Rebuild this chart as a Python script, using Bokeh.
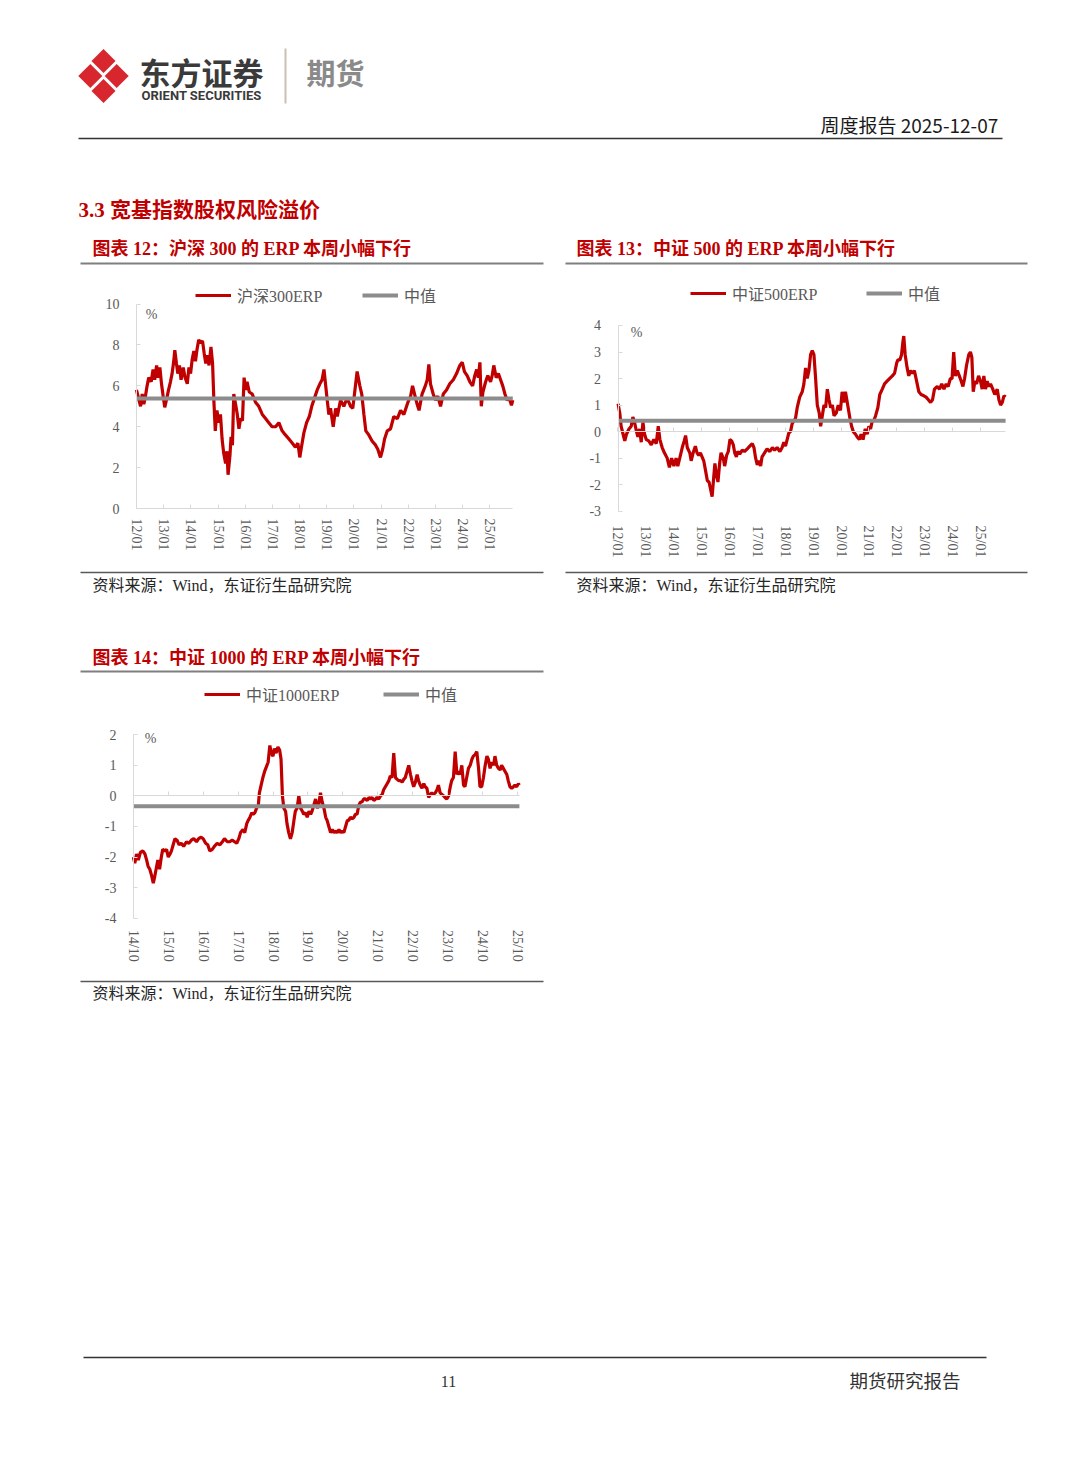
import math
from bokeh.plotting import figure
from bokeh.models import Range1d, LinearAxis, FixedTicker, CustomJSTickFormatter, Legend, LegendItem
from bokeh.layouts import column, row
from bokeh.embed import file_html
from bokeh.resources import INLINE
from bokeh.core.properties import value

# ---------------- data (decimal year, ERP %) ----------------
hs300_erp = [
    (2012.00, 5.8), (2012.09, 5.3), (2012.15, 5.0), (2012.21, 5.6), (2012.27, 5.1), (2012.33, 5.5),
    (2012.39, 6.0), (2012.45, 6.4), (2012.54, 6.2), (2012.61, 6.8), (2012.67, 6.3), (2012.74, 7.0),
    (2012.80, 6.4), (2012.86, 6.9), (2012.92, 6.1), (2012.98, 5.5), (2013.04, 4.95), (2013.10, 5.3),
    (2013.18, 5.8), (2013.25, 6.2), (2013.31, 6.6), (2013.37, 7.2), (2013.41, 7.75), (2013.47, 7.1),
    (2013.52, 6.6), (2013.58, 7.0), (2013.64, 6.3), (2013.72, 6.9), (2013.79, 6.4), (2013.87, 6.1),
    (2013.93, 6.9), (2013.99, 6.6), (2014.05, 7.3), (2014.11, 7.7), (2014.17, 7.2), (2014.23, 7.8),
    (2014.29, 8.25), (2014.36, 8.1), (2014.43, 8.2), (2014.49, 7.6), (2014.55, 7.1), (2014.61, 7.5),
    (2014.67, 7.0), (2014.74, 7.9), (2014.80, 7.1), (2014.85, 5.2), (2014.90, 3.8), (2014.96, 4.8),
    (2015.03, 4.2), (2015.09, 4.6), (2015.15, 3.4), (2015.21, 2.7), (2015.28, 2.2), (2015.33, 2.8),
    (2015.37, 1.65), (2015.44, 2.6), (2015.48, 3.5), (2015.53, 3.1), (2015.58, 5.6), (2015.66, 5.0),
    (2015.71, 4.6), (2015.77, 3.9), (2015.83, 4.4), (2015.90, 4.3), (2015.96, 6.4), (2016.02, 5.8),
    (2016.07, 6.2), (2016.15, 5.7), (2016.26, 5.6), (2016.38, 5.2), (2016.50, 5.0), (2016.63, 4.6),
    (2016.75, 4.4), (2016.87, 4.2), (2016.99, 4.0), (2017.12, 4.0), (2017.24, 4.2), (2017.36, 3.8),
    (2017.48, 3.6), (2017.61, 3.4), (2017.73, 3.2), (2017.85, 3.0), (2017.94, 3.2), (2018.01, 2.5),
    (2018.07, 3.0), (2018.16, 3.7), (2018.26, 4.2), (2018.36, 4.5), (2018.45, 5.0), (2018.55, 5.4),
    (2018.65, 5.8), (2018.75, 6.1), (2018.83, 6.3), (2018.90, 6.8), (2019.02, 5.3), (2019.08, 4.6),
    (2019.14, 4.9), (2019.24, 4.0), (2019.33, 4.9), (2019.39, 4.5), (2019.51, 5.3), (2019.63, 5.0),
    (2019.75, 5.4), (2019.88, 5.0), (2019.96, 4.9), (2020.04, 5.8), (2020.12, 6.7), (2020.22, 6.0),
    (2020.29, 5.6), (2020.37, 4.6), (2020.44, 3.8), (2020.55, 3.6), (2020.67, 3.3), (2020.80, 3.1),
    (2020.88, 2.9), (2020.98, 2.5), (2021.06, 2.9), (2021.13, 3.4), (2021.23, 3.8), (2021.35, 3.9),
    (2021.47, 4.5), (2021.60, 4.4), (2021.72, 4.8), (2021.84, 4.6), (2021.99, 5.2), (2022.09, 5.5),
    (2022.16, 6.0), (2022.27, 5.4), (2022.33, 5.1), (2022.40, 4.8), (2022.51, 5.6), (2022.63, 6.0),
    (2022.70, 6.3), (2022.76, 7.05), (2022.82, 6.1), (2022.92, 5.6), (2023.01, 5.3), (2023.09, 5.5),
    (2023.19, 5.0), (2023.29, 5.6), (2023.41, 5.8), (2023.53, 6.1), (2023.66, 6.3), (2023.78, 6.6),
    (2023.90, 7.0), (2023.99, 7.15), (2024.07, 6.7), (2024.17, 6.5), (2024.27, 6.2), (2024.37, 6.0),
    (2024.45, 6.5), (2024.52, 6.8), (2024.58, 6.4), (2024.64, 7.15), (2024.69, 5.0), (2024.75, 5.7),
    (2024.85, 6.2), (2024.93, 6.5), (2025.03, 6.2), (2025.09, 6.5), (2025.15, 7.0), (2025.24, 6.4),
    (2025.32, 6.6), (2025.40, 6.3), (2025.48, 6.0), (2025.56, 5.6), (2025.64, 5.3), (2025.72, 5.4),
    (2025.80, 5.05), (2025.85, 5.3),
]
csi500_erp = [
    (2012.01, 1.05), (2012.07, 0.7), (2012.12, 0.2), (2012.19, -0.1), (2012.25, -0.35), (2012.31, -0.1),
    (2012.40, 0.1), (2012.48, 0.2), (2012.54, 0.55), (2012.60, 0.35), (2012.66, 0.05), (2012.72, -0.2),
    (2012.78, 0.1), (2012.84, -0.4), (2012.90, 0.35), (2012.96, -0.1), (2013.02, -0.3), (2013.11, -0.35),
    (2013.20, -0.5), (2013.29, -0.3), (2013.38, -0.45), (2013.45, 0.2), (2013.51, -0.3), (2013.59, -0.6),
    (2013.67, -0.8), (2013.77, -1.0), (2013.85, -1.35), (2013.93, -1.0), (2014.01, -1.3), (2014.09, -1.0),
    (2014.15, -1.3), (2014.22, -1.0), (2014.31, -0.6), (2014.38, -0.35), (2014.43, -0.15), (2014.49, -0.6),
    (2014.58, -0.8), (2014.63, -1.1), (2014.70, -0.8), (2014.78, -0.55), (2014.84, -0.8), (2014.90, -0.9),
    (2014.96, -0.8), (2015.02, -0.95), (2015.08, -1.1), (2015.15, -1.5), (2015.21, -1.85), (2015.27, -1.9),
    (2015.33, -2.2), (2015.38, -2.45), (2015.44, -1.7), (2015.48, -1.2), (2015.53, -1.6), (2015.59, -1.9),
    (2015.65, -1.2), (2015.70, -0.8), (2015.78, -1.0), (2015.83, -1.3), (2015.90, -0.9), (2015.96, -0.75),
    (2016.02, -0.3), (2016.08, -0.35), (2016.14, -0.5), (2016.19, -0.8), (2016.25, -0.95), (2016.30, -0.75),
    (2016.37, -0.85), (2016.46, -0.7), (2016.54, -0.75), (2016.64, -0.65), (2016.73, -0.55), (2016.82, -0.45),
    (2016.88, -0.6), (2016.94, -1.0), (2017.00, -1.25), (2017.06, -1.1), (2017.12, -1.3), (2017.17, -0.95),
    (2017.26, -0.8), (2017.35, -0.65), (2017.45, -0.75), (2017.54, -0.6), (2017.62, -0.7), (2017.71, -0.6),
    (2017.81, -0.75), (2017.89, -0.6), (2017.95, -0.4), (2018.01, -0.55), (2018.07, -0.3), (2018.13, -0.05),
    (2018.19, 0.0), (2018.25, 0.3), (2018.31, 0.4), (2018.37, 0.5), (2018.43, 0.9), (2018.52, 1.3),
    (2018.61, 1.5), (2018.67, 1.8), (2018.73, 2.4), (2018.79, 2.0), (2018.85, 2.3), (2018.91, 2.9),
    (2018.97, 3.05), (2019.03, 2.9), (2019.09, 2.0), (2019.15, 1.0), (2019.22, 0.7), (2019.27, 0.2),
    (2019.33, 0.6), (2019.39, 1.0), (2019.45, 0.9), (2019.51, 1.6), (2019.57, 1.2), (2019.63, 0.9),
    (2019.69, 1.0), (2019.75, 0.6), (2019.83, 0.7), (2019.90, 1.0), (2019.98, 0.8), (2020.04, 1.5),
    (2020.10, 1.1), (2020.16, 1.5), (2020.24, 1.0), (2020.32, 0.5), (2020.38, 0.2), (2020.44, 0.0),
    (2020.52, -0.1), (2020.58, -0.2), (2020.66, -0.3), (2020.72, -0.1), (2020.79, -0.3), (2020.87, 0.1),
    (2020.94, -0.1), (2021.00, 0.2), (2021.06, 0.1), (2021.12, 0.4), (2021.17, 0.4), (2021.24, 0.6),
    (2021.32, 0.9), (2021.39, 1.4), (2021.48, 1.6), (2021.56, 1.8), (2021.65, 1.9), (2021.74, 2.0),
    (2021.84, 2.1), (2021.92, 2.2), (2022.00, 2.6), (2022.04, 2.7), (2022.11, 2.7), (2022.17, 2.9),
    (2022.22, 3.4), (2022.25, 3.6), (2022.30, 2.9), (2022.37, 2.4), (2022.43, 2.1), (2022.49, 2.3),
    (2022.56, 2.2), (2022.63, 2.3), (2022.71, 1.9), (2022.79, 1.5), (2022.87, 1.4), (2022.97, 1.35),
    (2023.05, 1.3), (2023.13, 1.2), (2023.21, 1.1), (2023.28, 1.2), (2023.35, 1.6), (2023.45, 1.7),
    (2023.53, 1.6), (2023.61, 1.8), (2023.69, 1.6), (2023.77, 1.8), (2023.84, 1.7), (2023.92, 2.0),
    (2023.98, 2.0), (2024.04, 3.0), (2024.10, 2.1), (2024.17, 2.3), (2024.24, 2.1), (2024.31, 1.9),
    (2024.37, 1.7), (2024.43, 2.0), (2024.50, 2.5), (2024.58, 2.9), (2024.64, 3.0), (2024.69, 2.8),
    (2024.74, 1.5), (2024.80, 1.9), (2024.86, 1.8), (2024.93, 2.1), (2025.00, 1.9), (2025.06, 1.6),
    (2025.12, 2.1), (2025.18, 1.6), (2025.24, 1.9), (2025.30, 1.7), (2025.36, 1.8), (2025.44, 1.6),
    (2025.51, 1.4), (2025.60, 1.6), (2025.66, 1.2), (2025.72, 1.0), (2025.78, 1.1), (2025.84, 1.35),
    (2025.90, 1.3),
]
csi1000_erp = [
    (2014.75, -2.0), (2014.79, -2.2), (2014.84, -1.9), (2014.89, -2.1), (2014.95, -1.85), (2015.02, -1.8),
    (2015.08, -1.9), (2015.13, -2.1), (2015.17, -2.3), (2015.22, -2.4), (2015.27, -2.6), (2015.32, -2.85),
    (2015.35, -2.7), (2015.40, -2.4), (2015.45, -2.1), (2015.50, -2.4), (2015.55, -2.0), (2015.59, -1.75),
    (2015.65, -1.8), (2015.70, -1.75), (2015.75, -2.0), (2015.80, -1.9), (2015.84, -1.8), (2015.89, -1.6),
    (2015.94, -1.4), (2016.00, -1.45), (2016.06, -1.6), (2016.12, -1.55), (2016.19, -1.65), (2016.27, -1.5),
    (2016.34, -1.55), (2016.41, -1.45), (2016.48, -1.4), (2016.56, -1.5), (2016.62, -1.4), (2016.69, -1.35),
    (2016.75, -1.4), (2016.82, -1.55), (2016.88, -1.6), (2016.94, -1.8), (2017.01, -1.75), (2017.07, -1.65),
    (2017.15, -1.55), (2017.23, -1.6), (2017.30, -1.5), (2017.36, -1.4), (2017.44, -1.5), (2017.51, -1.5),
    (2017.58, -1.45), (2017.65, -1.5), (2017.71, -1.55), (2017.77, -1.4), (2017.82, -1.2), (2017.89, -1.1),
    (2017.94, -1.2), (2018.00, -0.9), (2018.04, -0.8), (2018.09, -0.7), (2018.14, -0.55), (2018.18, -0.6),
    (2018.23, -0.55), (2018.28, -0.4), (2018.33, -0.3), (2018.36, 0.1), (2018.41, 0.35), (2018.46, 0.6),
    (2018.51, 0.8), (2018.56, 0.95), (2018.61, 1.1), (2018.66, 1.65), (2018.70, 1.4), (2018.75, 1.3),
    (2018.79, 1.55), (2018.84, 1.4), (2018.89, 1.6), (2018.94, 1.5), (2018.98, 1.2), (2019.02, 0.0),
    (2019.06, -0.4), (2019.11, -0.5), (2019.15, -0.9), (2019.20, -1.2), (2019.25, -1.4), (2019.30, -1.2),
    (2019.35, -0.8), (2019.39, -0.5), (2019.44, -0.4), (2019.49, 0.0), (2019.54, -0.4), (2019.59, -0.5),
    (2019.63, -0.6), (2019.68, -0.55), (2019.73, -0.7), (2019.78, -0.5), (2019.83, -0.6), (2019.87, -0.5),
    (2019.92, -0.3), (2019.97, -0.1), (2020.02, -0.4), (2020.06, -0.3), (2020.11, 0.1), (2020.16, -0.2),
    (2020.21, -0.4), (2020.26, -0.7), (2020.30, -0.8), (2020.35, -1.0), (2020.40, -1.2), (2020.45, -1.1),
    (2020.50, -1.2), (2020.54, -1.15), (2020.59, -1.2), (2020.64, -1.1), (2020.69, -1.2), (2020.73, -1.15),
    (2020.78, -1.2), (2020.83, -1.0), (2020.88, -0.8), (2020.92, -0.8), (2020.97, -0.7), (2021.02, -0.75),
    (2021.07, -0.7), (2021.11, -0.6), (2021.16, -0.6), (2021.21, -0.3), (2021.26, -0.2), (2021.30, -0.2),
    (2021.35, -0.1), (2021.40, -0.1), (2021.45, -0.15), (2021.50, -0.05), (2021.54, -0.1), (2021.59, -0.05),
    (2021.64, -0.15), (2021.69, -0.1), (2021.73, -0.05), (2021.78, -0.1), (2021.83, 0.0), (2021.88, 0.05),
    (2021.92, 0.2), (2021.97, 0.3), (2022.02, 0.4), (2022.07, 0.5), (2022.11, 0.65), (2022.16, 0.6),
    (2022.21, 1.4), (2022.26, 0.6), (2022.30, 0.55), (2022.35, 0.5), (2022.40, 0.5), (2022.45, 0.45),
    (2022.50, 0.55), (2022.54, 0.6), (2022.59, 0.8), (2022.64, 1.0), (2022.69, 0.7), (2022.73, 0.5),
    (2022.78, 0.3), (2022.83, 0.45), (2022.88, 0.7), (2022.92, 0.5), (2022.97, 0.35), (2023.02, 0.25),
    (2023.07, 0.4), (2023.11, 0.3), (2023.16, 0.25), (2023.21, -0.05), (2023.26, 0.05), (2023.30, 0.1),
    (2023.35, 0.05), (2023.40, 0.1), (2023.45, 0.2), (2023.49, 0.35), (2023.54, 0.1), (2023.59, 0.05),
    (2023.64, 0.0), (2023.68, -0.05), (2023.73, -0.1), (2023.78, 0.0), (2023.83, 0.3), (2023.87, 0.5),
    (2023.92, 0.6), (2023.97, 1.45), (2024.02, 0.7), (2024.06, 0.8), (2024.11, 0.7), (2024.16, 1.0),
    (2024.21, 0.35), (2024.25, 0.3), (2024.30, 0.6), (2024.35, 0.9), (2024.40, 1.0), (2024.45, 1.2),
    (2024.49, 1.3), (2024.54, 1.35), (2024.59, 1.45), (2024.64, 0.9), (2024.68, 0.3), (2024.73, 0.3),
    (2024.78, 0.6), (2024.83, 1.0), (2024.88, 1.3), (2024.92, 1.2), (2024.97, 0.9), (2025.02, 1.1),
    (2025.07, 1.0), (2025.11, 1.3), (2025.16, 1.0), (2025.21, 0.9), (2025.26, 0.85), (2025.30, 1.0),
    (2025.35, 0.9), (2025.40, 0.8), (2025.45, 0.7), (2025.49, 0.5), (2025.54, 0.3), (2025.59, 0.25),
    (2025.64, 0.3), (2025.68, 0.35), (2025.73, 0.3), (2025.78, 0.4), (2025.81, 0.35),
]
hs300_median = 5.38
csi500_median = 0.41
csi1000_median = -0.34

ticks_jan = [2012, 2013, 2014, 2015, 2016, 2017, 2018, 2019, 2020, 2021, 2022, 2023, 2024, 2025]
labels_jan = ["12/01", "13/01", "14/01", "15/01", "16/01", "17/01", "18/01",
              "19/01", "20/01", "21/01", "22/01", "23/01", "24/01", "25/01"]
ticks_oct = [2014.75, 2015.75, 2016.75, 2017.75, 2018.75, 2019.75, 2020.75, 2021.75, 2022.75, 2023.75, 2024.75, 2025.75]
labels_oct = ["14/10", "15/10", "16/10", "17/10", "18/10", "19/10", "20/10",
              "21/10", "22/10", "23/10", "24/10", "25/10"]
yticks_hs300 = [0, 2, 4, 6, 8, 10]
yticks_csi500 = [-3, -2, -1, 0, 1, 2, 3, 4]
yticks_csi1000 = [-4, -3, -2, -1, 0, 1, 2]

# ---------------- style ----------------
RED = "#C00000"
MEDGRAY = "#8C8C8C"
AXGRAY = "#D9D9D9"
LABGRAY = "#595959"
SERIF = "Liberation Serif, Noto Sans CJK SC"
CJK = "Noto Sans CJK SC"
SOURCE = "资料来源：Wind，东证衍生品研究院"


def page_figure(x0, x1, y0, y1):
    return figure(width=x1 - x0, height=y1 - y0, x_range=Range1d(x0, x1), y_range=Range1d(y1, y0),
                  output_backend="svg", toolbar_location=None, min_border=0,
                  x_axis_type=None, y_axis_type=None, outline_line_color=None)


def put_text(p, x, y, s, size, color, font=SERIF, style="normal", align="left", pg=False):
    kw = dict(x_range_name="px", y_range_name="py") if pg else {}
    p.text(x=[x], y=[y], text=[s], text_font=value(font), text_font_size=size, text_color=color,
           text_font_style=style, text_align=align, text_baseline="middle", **kw)


def put_line(p, x0, x1, y, color, width, pg=False):
    kw = dict(x_range_name="px", y_range_name="py") if pg else {}
    p.line(x=[x0, x1], y=[y, y], line_color=color, line_width=width, **kw)


def style_axis(ax, standoff):
    ax.axis_line_color = AXGRAY
    ax.axis_line_width = 1
    ax.major_tick_line_color = AXGRAY
    ax.major_tick_in = 4
    ax.major_tick_out = 0
    ax.minor_tick_line_color = None
    ax.major_label_text_font = SERIF
    ax.major_label_text_font_size = "14px"
    ax.major_label_text_color = LABGRAY
    ax.major_label_standoff = standoff


def chart(box, xmap, ymap, series, median, name, yticks, xticks, xlabels, xstand, leg, pct, title=None):
    px0, px1, py0, py1 = box
    ax_, av, xppu = xmap
    ay, yv, yppu = ymap
    xr = Range1d(av + (px0 - ax_) / xppu, av + (px1 - ax_) / xppu)
    yr = Range1d(yv - (py1 - ay) / yppu, yv - (py0 - ay) / yppu)
    p = figure(width=px1 - px0, height=py1 - py0, x_range=xr, y_range=yr, output_backend="svg",
               toolbar_location=None, min_border=0, x_axis_type=None, y_axis_type=None,
               outline_line_color=None)
    p.extra_x_ranges = {"px": Range1d(px0, px1)}
    p.extra_y_ranges = {"py": Range1d(py1, py0)}

    t = [a for a, b in series]
    v = [b for a, b in series]
    red = p.line(t, v, line_color=RED, line_width=3.2)
    gray = p.line([t[0], t[-1]], [median, median], line_color=MEDGRAY, line_width=4)

    yax = LinearAxis(fixed_location=t[0], bounds=(yticks[0], yticks[-1]), ticker=FixedTicker(ticks=yticks),
                     formatter=CustomJSTickFormatter(code="return String(Math.round(tick));"))
    style_axis(yax, 17)
    p.add_layout(yax, "left")
    xax = LinearAxis(fixed_location=0, bounds=(t[0], t[-1]), ticker=FixedTicker(ticks=xticks),
                     formatter=CustomJSTickFormatter(args=dict(tv=xticks, tl=xlabels), code="""
                        const i = tv.findIndex(q => Math.abs(q - tick) < 1e-6);
                        return i >= 0 ? tl[i] : "";"""))
    style_axis(xax, xstand)
    xax.major_label_orientation = "vertical"
    p.add_layout(xax, "below")

    # legends (library legends, placed in frame pixels)
    (rx, ry), (gx, gy) = leg
    for rend, lab, lx, ly in ((red, name, rx, ry), (gray, "中值", gx, gy)):
        lg = Legend(items=[LegendItem(label=lab, renderers=[rend])], location=(lx - px0, py1 - ly - 10),
                    orientation="horizontal", padding=0, margin=0, spacing=0, label_standoff=6,
                    glyph_width=36, glyph_height=20, label_height=20, border_line_color=None,
                    background_fill_alpha=0, label_text_font=SERIF, label_text_font_size="16px",
                    label_text_color=LABGRAY)
        p.add_layout(lg)

    put_text(p, pct[0], pct[1], "%", "14px", LABGRAY, align="center", pg=True)
    if title is not None:
        put_text(p, title[0], title[1], title[2], "18px", RED, style="bold", pg=True)
        put_line(p, 80, 543, title[1] + 14, "#7F7F7F", 2, pg=True)
    return p


# ---------------- header ----------------
head = page_figure(0, 1072, 0, 268)
lc = (103, 75.5)
head.rect(x=[lc[0], lc[0], lc[0] - 13.2, lc[0] + 13.2], y=[lc[1] - 15.0, lc[1] + 15.0, lc[1], lc[1]],
          width=17, height=17, angle=math.pi / 4, fill_color="#D7262E", line_color=None)
put_text(head, 139, 71, "东方证券", "31px", "#3A3A3A", font=CJK, style="bold")
put_text(head, 141, 95, "ORIENT SECURITIES", "13px", "#3A3A3A", font="Roboto", style="bold")
head.line(x=[285, 285], y=[48, 103], line_color="#C9C2B3", line_width=2)
put_text(head, 306, 71, "期货", "29px", "#8A8A8A", font=CJK, style="bold")
put_text(head, 1002, 124, "周度报告  2025-12-07", "19px", "#1A1A1A", font=CJK, align="right")
put_line(head, 78, 1002, 138, "#333333", 1.5)
put_text(head, 78, 209, "3.3  宽基指数股权风险溢价", "21px", RED, style="bold")
put_text(head, 92, 248, "图表 12：沪深 300 的 ERP 本周小幅下行", "18px", RED, style="bold")
put_line(head, 80, 543, 263, "#7F7F7F", 2)
put_text(head, 576, 248, "图表 13：中证 500 的 ERP 本周小幅下行", "18px", RED, style="bold")
put_line(head, 565, 1027, 263, "#7F7F7F", 2)

# ---------------- charts ----------------
c12 = chart((0, 556, 268, 605), (136.0, 2012.0, 27.17), (508.0, 0.0, 20.44), hs300_erp, hs300_median,
            "沪深300ERP", yticks_hs300, ticks_jan, labels_jan, 10, ((195, 297), (362, 297)), (151, 314))
put_line(c12, 80, 543, 572, "#595959", 1.5, pg=True)
put_text(c12, 92, 585, SOURCE, "16px", "#262626", pg=True)

c13 = chart((556, 1072, 268, 605), (617.3, 2012.0, 27.9), (431.1, 0.0, 26.53), csi500_erp, csi500_median,
            "中证500ERP", yticks_csi500, ticks_jan, labels_jan, 94, ((690, 295), (866, 295)), (636, 332))
put_line(c13, 565, 1027, 572, "#595959", 1.5, pg=True)
put_text(c13, 576, 585, SOURCE, "16px", "#262626", pg=True)

c14 = chart((0, 556, 605, 1010), (132.9, 2014.75, 34.9), (795.4, 0.0, 30.57), csi1000_erp, csi1000_median,
            "中证1000ERP", yticks_csi1000, ticks_oct, labels_oct, 134, ((204, 696), (383, 696)), (150, 738),
            title=(92, 657, "图表 14：中证 1000 的 ERP 本周小幅下行"))
put_line(c14, 80, 543, 981, "#595959", 1.5, pg=True)
put_text(c14, 92, 993, SOURCE, "16px", "#262626", pg=True)

# ---------------- footer ----------------
foot = page_figure(0, 1072, 1010, 1400)
put_line(foot, 83, 986, 1357, "#333333", 1.5)
put_text(foot, 448, 1381, "11", "16px", "#333333", align="center")
put_text(foot, 960, 1381, "期货研究报告", "18.5px", "#333333", align="right")

page = column(head, row(c12, c13), c14, foot)
open("out.html", "w").write(file_html(page, INLINE))
